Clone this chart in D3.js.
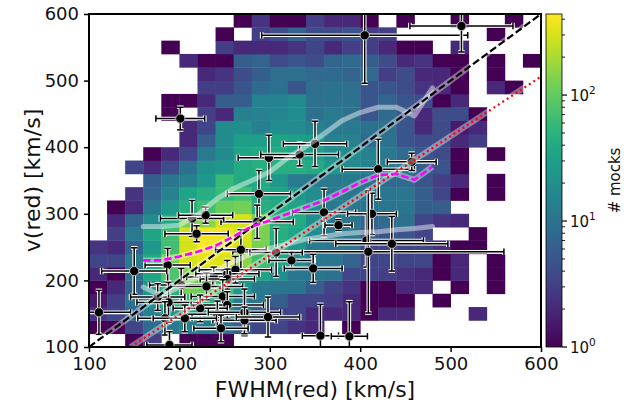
<!DOCTYPE html>
<html><head><meta charset="utf-8">
<script src="https://cdn.jsdelivr.net/npm/d3@7"></script>
<style>body{margin:0;background:#fff}svg{display:block;font-family:"DejaVu Sans",sans-serif}</style>
</head><body><svg id="c" width="633" height="407"></svg>
<script>
// ---------- data ----------
const xBins = [100,120,140,160,180,200,220,240,260,280,300,320,340,360,380,400,420,440,460,480,500,520,540,560,580];
const yBins = [100,120,140,160,180,200,220,240,260,280,300,320,340,360,380,400,420,440,460,480,500,520,540,560,580];
const binWidth = 20;
// counts[j][i]: rows = v(red) bins from 100 upward, cols = FWHM bins
const counts = [
 [0,0,1,3,0,1,1,1,0,0,0,0,0,0,0,0,0,0,0,0,0,0,0,0,0],
 [1,1,3.5,8,12,14,12,10,6,3.5,3.5,2.5,2,0,1,0,0,0,0,0,0,0,0,0,0],
 [2.5,3.5,7,15,25,35,28,20,11,6,3.5,3.5,2,2,2,1,2,2,0,0,0,2,0,0,0],
 [1.5,3,10,20,45,60,50,35,12,11,6,3.5,3.5,3,2,1,1,1,0,1,0,0,0,0,0],
 [1,2,7,25,50,120,110,70,25,12,11,11,6,3.5,2.5,1,1,2,2,0,1,0,1,0,0],
 [2,1,10,35,80,150,200,180,40,35,20,11,11,10,3.5,3.5,3,2.5,2,1,2,0,1,0,0],
 [3.5,3.5,12,40,130,300,350,320,150,70,38,20,11,11,7,3.5,3.5,3.5,3.5,1,2,0,1,0,0],
 [2.5,2,7,25,70,300,420,400,300,130,40,25,12,11,11,3.5,3.5,3.5,3.5,2.5,1,1,0,0,0],
 [0,3,12,35,70,300,400,380,300,130,45,35,20,12,11,6,5,5,3.5,0,0,1,0,0,0],
 [0,2,7,20,40,130,150,300,300,130,45,40,20,12,11,7,8,10,3.5,2.5,2,0,0,0,0],
 [0,1,2,11,25,45,70,110,120,45,40,35,20,12,11,11,11,11,6,6,0,0,0,0,0],
 [0,0,2.5,7,15,35,45,60,70,40,35,25,20,12,11,11,11,11,6,3.5,1,0,1,0,0],
 [0,0,0,6,11,14,25,60,40,40,25,12,12,12,12,10,8,8,5,3,2,0,1,0,0],
 [0,0,3.5,2,4,10,22,25,40,45,45,45,40,25,18,15,14,12,6,5,1,0,0,0,0],
 [0,0,0,1,2,3.5,12,18,35,40,40,35,30,20,18,15,12,8,5,4,1,0,1,0,0],
 [0,0,0,0,0,2,6,18,30,30,35,30,28,15,14,8,10,5,4,4,2,3,0,0,0],
 [0,0,0,0,0,2,3.5,18,20,14,20,18,14,12,12,10,10,5,2,4,1.5,2,0,0,0],
 [0,0,0,0,1,0,3,2,14,15,16,20,10,12,10,5,8,5,2,4,4,1,0,0,0],
 [0,0,0,0,1,1,2,6,6,15,15,18,10,10,10,5,7,5,4,1,2,0,0,0,0],
 [0,0,0,0,0,0,3,3,5,8,10,5,9,10,9,5,5,4,2.5,2,1,0,2,1,0],
 [0,0,0,0,0,0,2,2.5,4,6,9,9,8,8,7,8,3,4,2,2,1,0,1,0,0],
 [0,0,0,0,0,2,1,1,6,7,4,5,4,7,8,6,4,2,2.5,1,1,0,1,0,1],
 [0,0,0,0,1,0,0,3,2,2,2,2.5,3.5,2,3,3,2,1,1,0,2,0,0,0,0],
 [0,0,0,0,0,0,0,1,0,3,4,7,4,4,5,3,3,0,0,0,0,0,1,0,0],
 [0,0,0,0,0,0,0,0,1,2.5,1,1,3,2,2,1,0,1,0,0,1,0,0,1,0]
];
const countMin = 1, countMax = 440;

// observed objects
const ptX  = [201,405,512,299,333,350,420,457,288,360,376,413,407,409,435,286,268,307,324,348,187,150,262,238,253,253,202,230,176,188,248,253,223,242,272,272,298,111,184,206,246,189,214,229,219,356,388];
const ptY  = [443,568,582,384,389,405,367,378,330,302,283,300,260,243,255,288,246,242,230,218,223,214,216,205,210,202,193,191,175,167,176,163,158,149,152,140,145,152,143,143,128,103,293,298,270,117,116];
const ptXerr = [27,114,57,34,43,35,40,27,35,35,15,27,63,150,62,40,28,29,25,32,25,36,40,30,35,30,35,40,30,35,35,40,30,35,40,35,35,35,30,35,30,25,35,30,35,20,20];
const ptYerr = [17,72,39,34,17,34,45,13,35,35,8,31,40,92,41,25,30,36,12,21,25,35,20,15,20,15,25,20,20,30,25,20,20,20,35,20,30,33,25,20,20,20,27,12,12,47,52];

// binned mock curves
const curveX     = [160,180,200,220,240,260,280,300,320,340,360,380,400,420,440,460,480];
const upperWhite = [281,281,283,298,321,338,350,363,384,401,420,440,452,460,460,447,489];
const lowerWhite = [190,177,190,205,215,228,240,248,255,262,266,270,272,273,276,278,281];
const medianMock = [230,230,236,243,252,266,281,290,300,310,320,333,347,358,360,351,371];

// reference lines
const oneToOneX = [100,600], oneToOneY = [100,600];
const fitX = [146,600], fitY = [100,506];

const xTicks = [100,200,300,400,500,600];
const yTicks = [100,200,300,400,500,600];
const cbTicks = [1,10,100];
const cbExp = ["0","1","2"];
const cbMinor = [2,3,4,5,6,7,8,9,20,30,40,50,60,70,80,90,200,300,400];

// ---------- layout ----------
const L=89,R=541,T=14,B=347;
const svg = d3.select('#c');
const x = d3.scaleLinear().domain([100,600]).range([L,R]);
const y = d3.scaleLinear().domain([100,600]).range([B,T]);
const color = d3.scaleSequentialLog(d3.interpolateViridis).domain([countMin,countMax]);

svg.append('defs').append('clipPath').attr('id','clip')
  .append('rect').attr('x',L).attr('y',T).attr('width',R-L).attr('height',B-T);

// heatmap
const cells = [];
counts.forEach((row,j)=>row.forEach((c,i)=>{ if(c>0) cells.push({i,j,c}); }));
svg.append('g').attr('clip-path','url(#clip)').selectAll('rect').data(cells).enter().append('rect')
  .attr('x',d=>x(xBins[d.i]))
  .attr('y',d=>y(yBins[d.j]+binWidth))
  .attr('width',d=>x(xBins[d.i]+binWidth)-x(xBins[d.i])+0.4)
  .attr('height',d=>y(yBins[d.j])-y(yBins[d.j]+binWidth)+0.4)
  .attr('fill',d=>color(d.c));

// error bars & points
const gp = svg.append('g').attr('clip-path','url(#clip)');
const cap = 3.2;
ptX.forEach((vx,k)=>{
  const g = gp.append('g');
  const cx=x(vx), cy=y(ptY[k]);
  const x0=x(vx-ptXerr[k]), x1=x(vx+ptXerr[k]);
  const y0=y(ptY[k]-ptYerr[k]), y1=y(ptY[k]+ptYerr[k]);
  const segs = [[x0,cy,x1,cy],[cx,y0,cx,y1],[x0,cy-cap,x0,cy+cap],[x1,cy-cap,x1,cy+cap],[cx-cap,y0,cx+cap,y0],[cx-cap,y1,cx+cap,y1]];
  [['#fff',3.6],['#000',1.5]].forEach(([col,w])=>{
    segs.forEach(s=>g.append('line').attr('x1',s[0]).attr('y1',s[1]).attr('x2',s[2]).attr('y2',s[3])
      .attr('stroke',col).attr('stroke-width',w));
  });
  g.append('circle').attr('cx',cx).attr('cy',cy).attr('r',4.6).attr('fill','#000')
    .attr('stroke','#bbb').attr('stroke-width',1);
});

// lines
const gl = svg.append('g').attr('clip-path','url(#clip)');
const line = d3.line().x(d=>x(d[0])).y(d=>y(d[1]));
const zip=(a,b)=>a.map((v,i)=>[v,b[i]]);
gl.append('path').attr('d',line(zip(curveX,upperWhite))).attr('fill','none')
  .attr('stroke','#fff').attr('stroke-opacity',0.45).attr('stroke-width',5).attr('stroke-linejoin','round').attr('stroke-linecap','round');
gl.append('path').attr('d',line(zip(curveX,lowerWhite))).attr('fill','none')
  .attr('stroke','#fff').attr('stroke-opacity',0.45).attr('stroke-width',5).attr('stroke-linejoin','round').attr('stroke-linecap','round');
// underlays
[[oneToOneX,oneToOneY],[fitX,fitY],[curveX,medianMock]].forEach(([a,b])=>{
  gl.append('path').attr('d',line(zip(a,b))).attr('fill','none')
    .attr('stroke','#fff').attr('stroke-opacity',0.4).attr('stroke-width',6).attr('stroke-linejoin','round');
});
gl.append('path').attr('d',line(zip(oneToOneX,oneToOneY))).attr('fill','none')
  .attr('stroke','#000').attr('stroke-width',2.2).attr('stroke-dasharray','7.4 3.2');
gl.append('path').attr('d',line(zip(fitX,fitY))).attr('fill','none')
  .attr('stroke','#ff0000').attr('stroke-width',2.2).attr('stroke-dasharray','2 3.3');
gl.append('path').attr('d',line(zip(curveX,medianMock))).attr('fill','none')
  .attr('stroke','#ff00ff').attr('stroke-width',2.6).attr('stroke-dasharray','7.4 3.2');

// axes
const gx = svg.append('g').attr('transform',`translate(0,${B})`)
  .call(d3.axisBottom(x).tickValues(xTicks).tickSize(5).tickPadding(5).tickFormat(d3.format('d')));
const gy = svg.append('g').attr('transform',`translate(${L},0)`)
  .call(d3.axisLeft(y).tickValues(yTicks).tickSize(5).tickPadding(5).tickFormat(d3.format('d')));
[gx,gy].forEach(g=>{
  g.select('.domain').remove();
  g.selectAll('line').attr('stroke','#000').attr('stroke-width',1.5);
  g.selectAll('text').attr('font-size',18).attr('fill','#111').attr('font-family','"DejaVu Sans",sans-serif');
});
svg.append('rect').attr('x',L).attr('y',T).attr('width',R-L).attr('height',B-T)
  .attr('fill','none').attr('stroke','#000').attr('stroke-width',2);

svg.append('text').attr('x',(L+R)/2).attr('y',397).attr('text-anchor','middle')
  .attr('font-size',22).attr('fill','#111').text('FWHM(red) [km/s]');
svg.append('text').attr('transform',`translate(40,${(T+B)/2}) rotate(-90)`).attr('text-anchor','middle')
  .attr('font-size',22).attr('fill','#111').text('v(red) [km/s]');

// colorbar
const CL=546, CR=562;
const cy = d3.scaleLog().domain([countMin,countMax]).range([B,T]);
const grad = svg.select('defs').append('linearGradient').attr('id','vir')
  .attr('x1',0).attr('y1',1).attr('x2',0).attr('y2',0);
d3.range(0,1.0001,0.05).forEach(t=>grad.append('stop').attr('offset',t).attr('stop-color',d3.interpolateViridis(t)));
svg.append('rect').attr('x',CL).attr('y',T).attr('width',CR-CL).attr('height',B-T).attr('fill','url(#vir)')
  .attr('stroke','#000').attr('stroke-width',0.8);
const gc = svg.append('g');
cbTicks.forEach((v,k)=>{
  gc.append('line').attr('x1',CR).attr('x2',CR+5).attr('y1',cy(v)).attr('y2',cy(v)).attr('stroke','#000').attr('stroke-width',1.2);
  const t = gc.append('text').attr('x',CR+8).attr('y',cy(v)+6).attr('font-size',15).attr('fill','#111');
  t.append('tspan').text('10');
  t.append('tspan').attr('dy',-7).attr('font-size',10.5).text(cbExp[k]);
});
cbMinor.forEach(v=>{
  gc.append('line').attr('x1',CR).attr('x2',CR+3).attr('y1',cy(v)).attr('y2',cy(v)).attr('stroke','#000').attr('stroke-width',0.9);
});
svg.append('text').attr('transform',`translate(620,${(T+B)/2}) rotate(-90)`).attr('text-anchor','middle')
  .attr('font-size',15).attr('fill','#111').text('# mocks');
</script></body></html>
